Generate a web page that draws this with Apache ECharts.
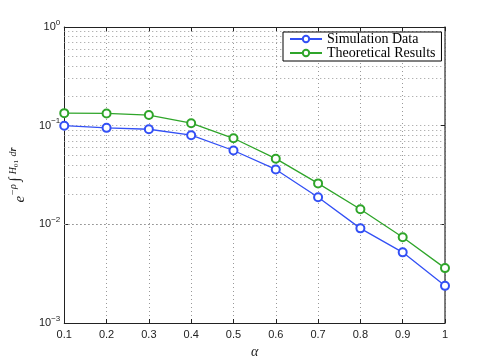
<!DOCTYPE html>
<html>
<head>
<meta charset="utf-8">
<script src="https://cdn.jsdelivr.net/npm/echarts@6/dist/echarts.min.js"></script>
<style>
  html, body { margin: 0; padding: 0; background: #fff; }
  #chart { width: 491px; height: 364px; }
</style>
</head>
<body>
<div id="chart"></div>
<script>
// 数据
var alpha = [0.1, 0.2, 0.3, 0.4, 0.5, 0.6, 0.7, 0.8, 0.9, 1.0];
var simData = [0.100, 0.095, 0.092, 0.080, 0.056, 0.036, 0.0188, 0.0091, 0.0052, 0.00238];
var theoryData = [0.134, 0.133, 0.128, 0.106, 0.0745, 0.0463, 0.026, 0.0142, 0.0074, 0.0036];
var seriesNames = ['Simulation Data', 'Theoretical Results'];
var decades = [0.001, 0.01, 0.1];
var minorSteps = [2, 3, 4, 5, 6, 7, 8, 9];

// 点对
function pairs(ys) {
  return alpha.map(function (x, i) { return [x, ys[i]]; });
}

// 次刻度网格线 (对数轴)
var minorLines = [];
decades.forEach(function (d) {
  minorSteps.forEach(function (m) {
    minorLines.push({ yAxis: +(d * m).toPrecision(3) });
  });
});

var myChart = echarts.init(document.getElementById('chart'));

var gridLine = { show: true, lineStyle: { type: [1, 3], color: '#999', width: 1 } };
var serif = 'Liberation Serif';

var option = {
  animation: false,
  backgroundColor: '#fff',
  grid: { left: 55, right: 46, top: 27, bottom: 41 },
  legend: {
    orient: 'vertical',
    left: 283,
    top: 32,
    itemWidth: 32,
    itemHeight: 8,
    itemGap: 0,
    padding: [0, 6, 1, 6],
    backgroundColor: '#fff',
    borderColor: '#000',
    borderWidth: 1,
    borderRadius: 0,
    textStyle: { fontFamily: serif, fontSize: 14, lineHeight: 12, color: '#000' },
    data: seriesNames
  },
  xAxis: [{
    type: 'value',
    min: 0.1,
    max: 1,
    interval: 0.1,
    name: 'α',
    nameLocation: 'middle',
    nameGap: 18,
    nameTextStyle: { fontFamily: serif, fontStyle: 'italic', fontSize: 14, color: '#222' },
    axisLine: { show: true, lineStyle: { color: '#222', width: 1 } },
    axisTick: { show: true, inside: true, length: 4, lineStyle: { color: '#222' } },
    axisLabel: {
      fontFamily: 'Liberation Sans', fontSize: 11, color: '#222', margin: 6,
      formatter: function (v) { return +v.toFixed(1) + ''; }
    },
    splitLine: gridLine
  }, {
    type: 'value',
    position: 'top',
    min: 0.1,
    max: 1,
    interval: 0.1,
    axisLine: { show: true, onZero: false, lineStyle: { color: '#222', width: 1 } },
    axisTick: { show: true, inside: true, length: 4, lineStyle: { color: '#222' } },
    axisLabel: { show: false },
    splitLine: { show: false }
  }],
  yAxis: [{
    type: 'log',
    logBase: 10,
    min: 0.001,
    max: 1,
    name: '{e|e}{s|−ρ }{i|∫}{s| H}{sub|01}{s| d}{r|r}',
    nameLocation: 'middle',
    nameRotate: 90,
    nameGap: 30,
    nameTextStyle: {
      color: '#222',
      rich: {
        e: { fontFamily: serif, fontStyle: 'italic', fontSize: 15, color: '#222' },
        s: { fontFamily: serif, fontStyle: 'italic', fontSize: 10, color: '#222', padding: [0, 0, 14, 0] },
        i: { fontFamily: serif, fontSize: 15, color: '#222', padding: [0, 1, 10, 0] },
        sub: { fontFamily: serif, fontSize: 7, color: '#222', padding: [0, 1, 8, 0] },
        r: { fontFamily: serif, fontWeight: 'bold', fontStyle: 'italic', fontSize: 10, color: '#222', padding: [0, 0, 14, 0] }
      }
    },
    axisLine: { show: true, lineStyle: { color: '#222', width: 1 } },
    axisTick: { show: true, inside: true, length: 4, lineStyle: { color: '#222' } },
    axisLabel: {
      margin: 4,
      formatter: function (v) {
        var p = Math.round(Math.log10(v));
        return '{b|10}{p|' + (p < 0 ? '−' + (-p) : p) + '}';
      },
      rich: {
        b: { fontFamily: 'Liberation Sans', fontSize: 11, color: '#222' },
        p: { fontFamily: 'Liberation Sans', fontSize: 8, color: '#222', padding: [0, 0, 9, 0] }
      }
    },
    splitLine: gridLine
  }, {
    type: 'log',
    logBase: 10,
    min: 0.001,
    max: 1,
    position: 'right',
    axisLine: { show: true, onZero: false, lineStyle: { color: '#555', width: 1.5 } },
    axisTick: { show: true, inside: true, length: 4, lineStyle: { color: '#222' } },
    axisLabel: { show: false },
    splitLine: { show: false }
  }],
  series: [{
    name: seriesNames[0],
    type: 'line',
    data: pairs(simData),
    symbol: 'emptyCircle',
    symbolSize: 8,
    z: 3,
    lineStyle: { color: '#3350f5', width: 1.3 },
    itemStyle: { color: '#3350f5', borderWidth: 1.3 },
    markLine: {
      silent: true,
      symbol: 'none',
      label: { show: false },
      lineStyle: { type: [1, 3], color: '#999', width: 1 },
      data: minorLines,
      z: 1
    }
  }, {
    name: seriesNames[1],
    type: 'line',
    data: pairs(theoryData),
    symbol: 'emptyCircle',
    symbolSize: 8,
    z: 3,
    lineStyle: { color: '#2fa52a', width: 1.3 },
    itemStyle: { color: '#2fa52a', borderWidth: 1.3 }
  }]
};

myChart.setOption(option);
</script>
</body>
</html>
